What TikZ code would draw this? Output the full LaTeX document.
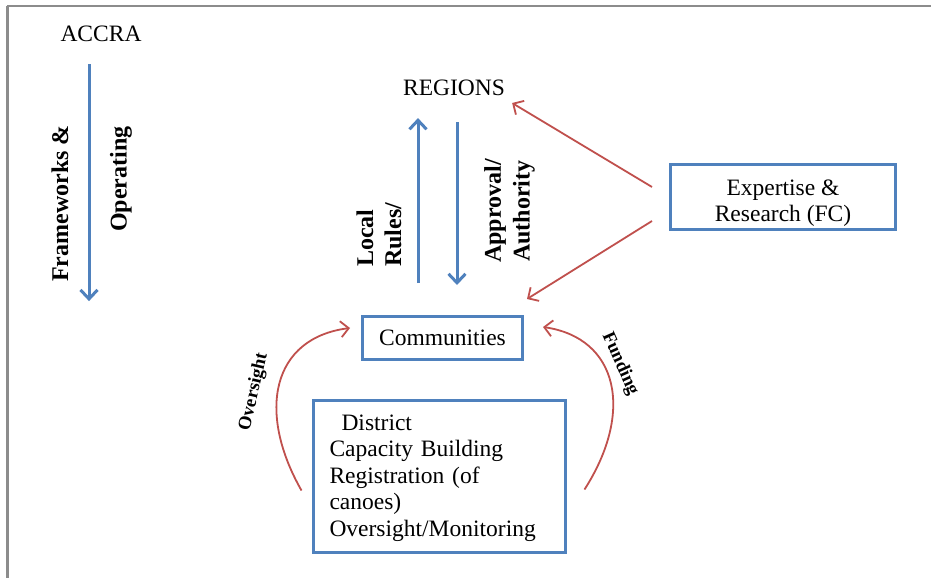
\documentclass[tikz,border=0pt]{standalone}
\usepackage{fontspec}
\setmainfont{Liberation Serif}
\usetikzlibrary{arrows.meta,calc}
\definecolor{boxblue}{RGB}{79,129,189}
\definecolor{arrred}{RGB}{192,80,77}
\definecolor{framegray}{RGB}{140,140,140}
\begin{document}
\begin{tikzpicture}[x=1pt,y=-1pt,
  txt/.style={font=\fontsize{23.5}{26.5}\selectfont, inner sep=0pt},
  lbl/.style={font=\fontsize{24}{26}\selectfont\bfseries, inner sep=0pt, rotate=90, anchor=west},
  smalllbl/.style={font=\fontsize{18.5}{20}\selectfont\bfseries, inner sep=0pt},
  bluebox/.style={draw=boxblue, line width=3pt, font=\fontsize{23.5}{26.5}\selectfont, inner sep=0pt},
  bluearrow/.style={draw=boxblue, line width=3pt, -{Straight Barb[length=9pt,width=17pt,line width=3pt]}},
  redarrow/.style={draw=arrred, line width=1.8pt, -{Straight Barb[length=8pt,width=16pt,line width=1.8pt]}},
  framestyle/.style={draw=framegray, line width=2.2pt}
]
\useasboundingbox (0,0) rectangle (931,578);
\fill[white] (0,0) rectangle (931,578);
% frame lines
\draw[framestyle] (7,6) -- (931,6);
\draw[framestyle] (7.5,6) -- (7.5,578);

% nodes
\node[txt] (accra) at (101,34) {ACCRA};
\node[txt] (regions) at (454,88) {REGIONS};
\node[bluebox, minimum width=160pt, minimum height=43pt] (communities) at (442.5,338) {Communities};
\node[bluebox, minimum width=225pt, minimum height=65pt, align=center] (expertise) at (783,197)
  {\rule{0pt}{27.5pt}Expertise \&\\Research (FC)};
\node[bluebox, anchor=north west, minimum width=252pt, minimum height=152pt, text width=219pt,
  inner xsep=16.5pt, align=left] (district) at (311.5,398.5)
  {\rule{0pt}{20pt}\hspace{12pt}District\\Capacity Building\\Registration (of\\canoes)\\Oversight/Monitoring};

% rotated labels
\node[lbl] (frameworks) at (60,282) {Frameworks \&};
\node[lbl] (operating) at (121,232) {Operating};
\node[lbl] (local) at (365,267) {Local};
\node[lbl] (rules) at (393,267) {Rules/};
\node[lbl] (approval) at (495,263) {Approval/};
\node[lbl] (authority) at (524,262) {Authority};
\node[smalllbl, rotate=77] (oversightlbl) at (254,392) {Oversight};
\node[smalllbl, rotate=-66] (fundinglbl) at (620,364) {Funding};

% blue arrows
\draw[bluearrow] ($(accra.south)+(-12,22)$) -- ($(accra.south)+(-12,259)$);
\draw[bluearrow] ($(communities.north)+(-24.5,-32)$) -- ($(regions.south)+(-36,22)$);
\draw[bluearrow] ($(regions.south)+(3,26)$) -- ($(communities.north)+(14.5,-30)$);

% red arrows
\draw[redarrow] ($(expertise.west)+(-17,-10)$) -- ($(regions.east)+(7,15)$);
\draw[redarrow] ($(expertise.west)+(-17,24)$) -- ($(communities.north east)+(3,-16)$);
\draw[redarrow] ($(district.north west)+(-10,92)$) .. controls +(-45,-79) and +(-78,10) .. ($(communities.west)+(-11,-10)$);
\draw[redarrow] ($(district.north east)+(18,91)$) .. controls +(50,-78) and +(75,11) .. ($(communities.east)+(19,-11)$);
\end{tikzpicture}
\end{document}
